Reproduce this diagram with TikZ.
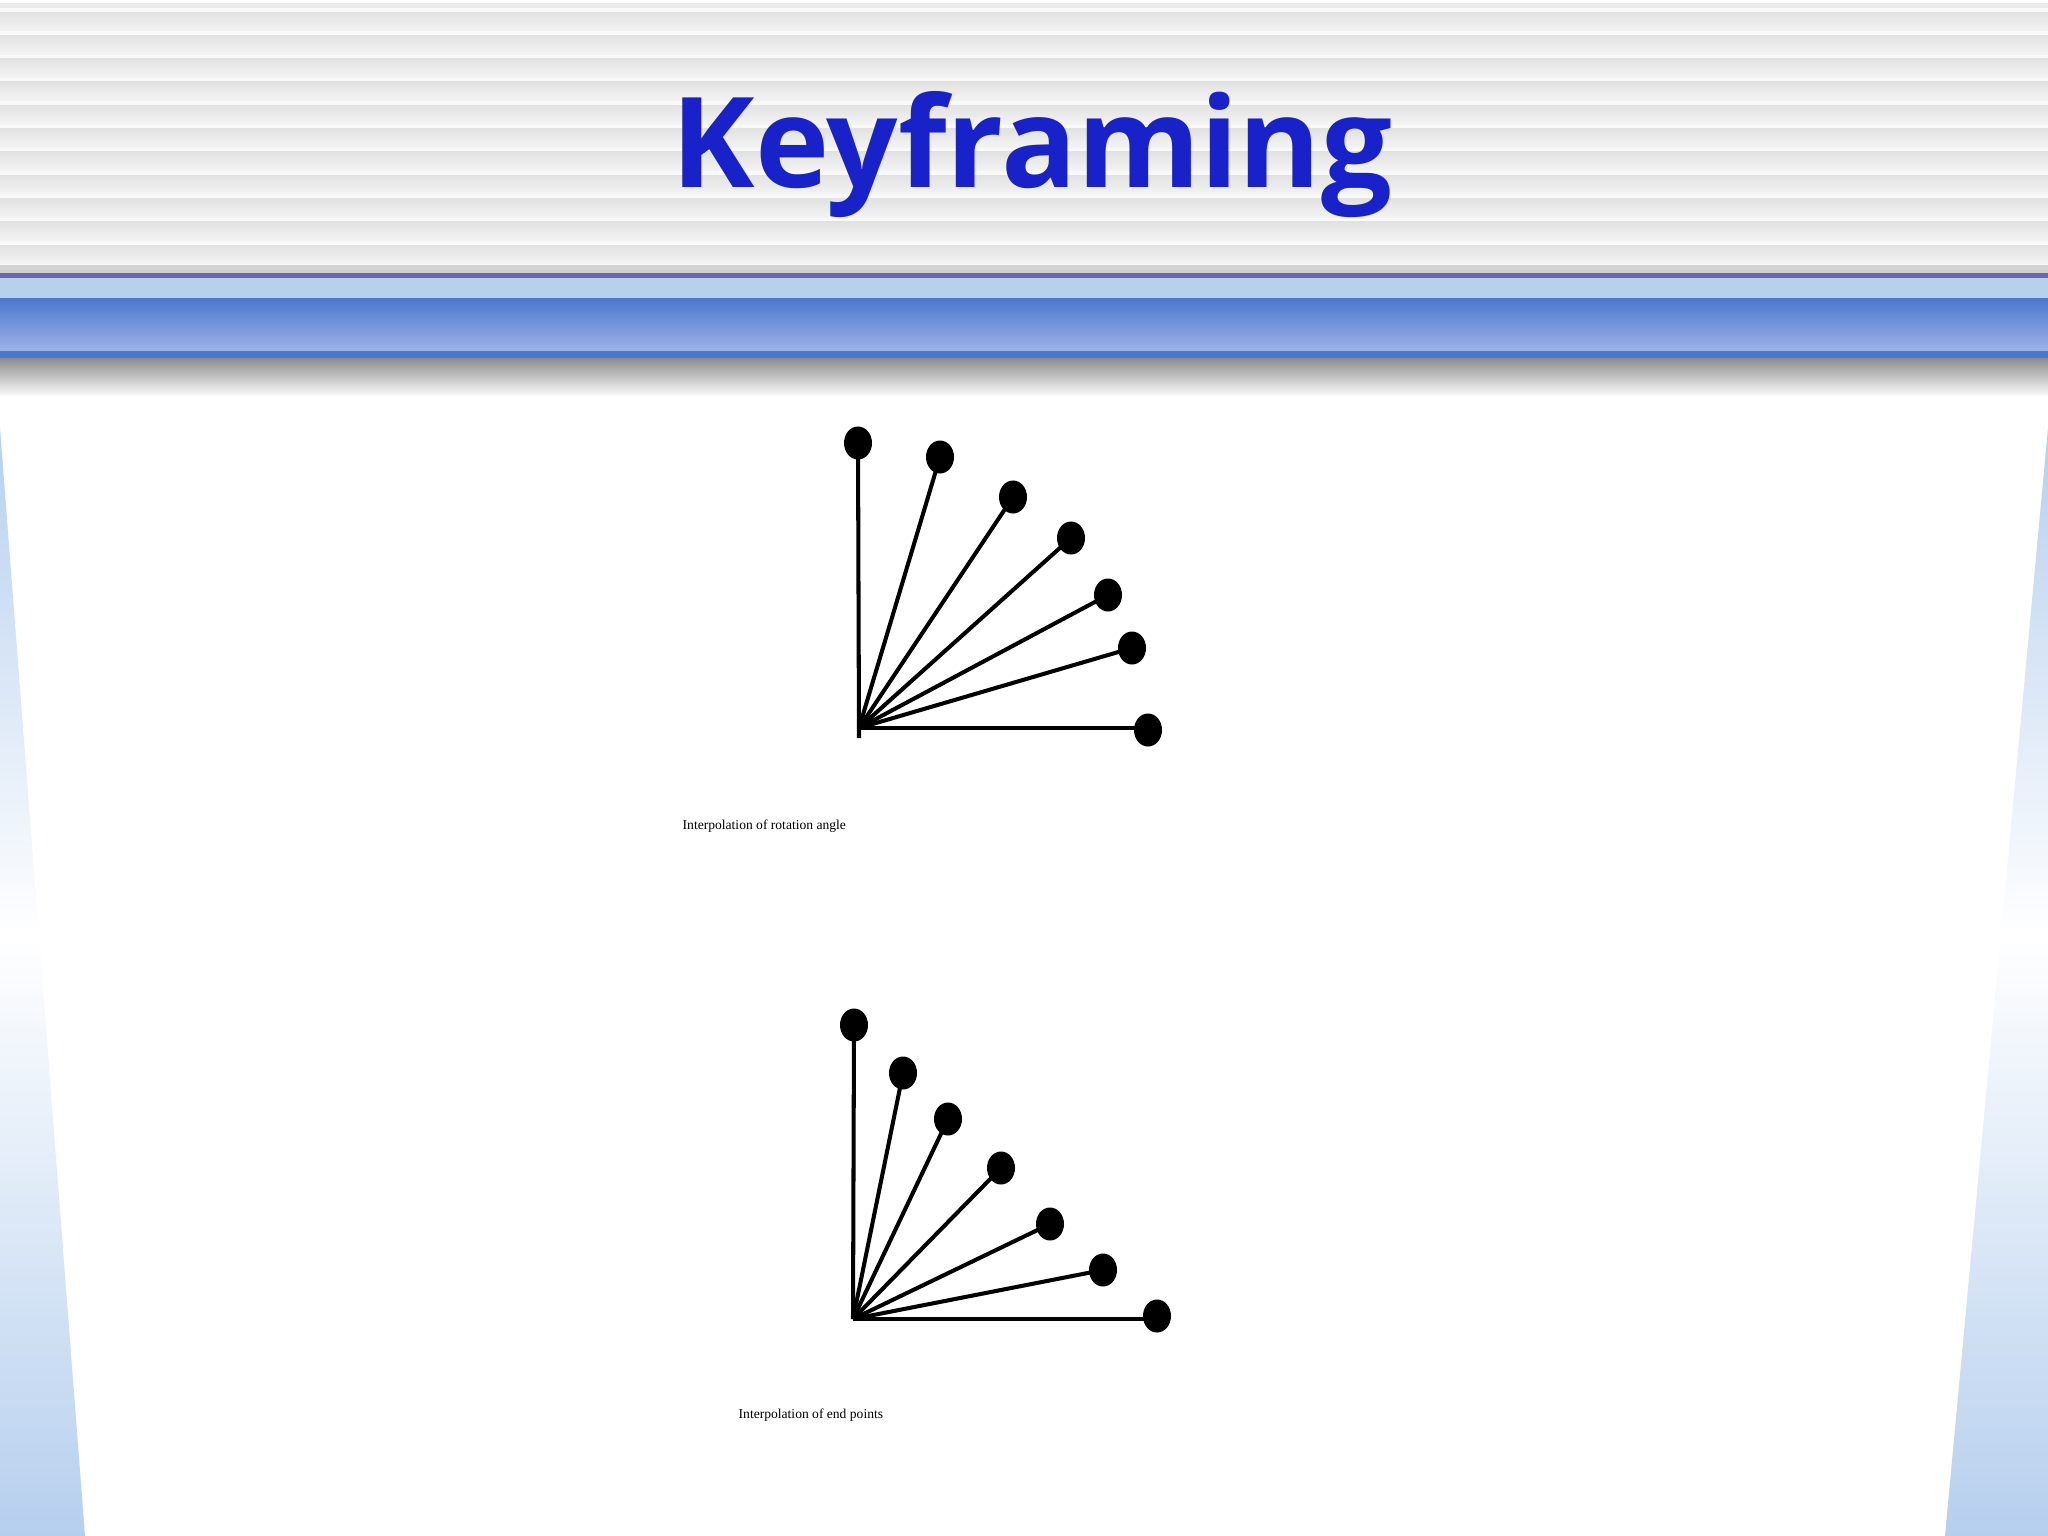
\documentclass[tikz,border=0pt]{standalone}
\usepackage{fontspec}
\setmainfont{Liberation Serif}
\newfontfamily\titlefont{Open Sans}
\usetikzlibrary{shapes.geometric}
\definecolor{titleblue}{RGB}{25,34,200}
\definecolor{hdrgray}{RGB}{234,234,234}
\definecolor{stripedark}{RGB}{226,226,226}
\definecolor{stripelight}{RGB}{244,244,244}
\definecolor{bandblue}{RGB}{74,120,206}
\definecolor{bandlight}{RGB}{158,178,232}
\definecolor{palebluebar}{RGB}{184,208,236}
\definecolor{purpleline}{RGB}{104,104,176}
\definecolor{sideblue}{RGB}{182,207,238}
\tikzset{
  keydot/.style={ellipse, fill=black, minimum width=0.28cm, minimum height=0.33cm, inner sep=0pt},
  arm/.style={draw=black, line width=1.15pt},
  caption/.style={font=\fontsize{3.86}{5}\selectfont, anchor=west, inner sep=0pt},
  titletext/.style={font=\titlefont\bfseries\fontsize{35.7}{40}\selectfont, text=titleblue, anchor=base, inner sep=0pt}
}
\begin{document}
\begin{tikzpicture}[x=0.01cm,y=-0.01cm]
\useasboundingbox (0,0) rectangle (2048,1536);
\fill[white] (0,0) rectangle (2048,1536);
% header stripes
\fill[hdrgray] (0,0) rectangle (2048,266);
\foreach \i in {0,...,11} {
  \pgfmathsetmacro\ya{8+23.3*\i}
  \pgfmathsetmacro\yb{\ya+4}
  \pgfmathsetmacro\yc{\ya+23.3}
  \fill[white!70!hdrgray] (0,\ya) rectangle (2048,\yb);
  \shade[top color=stripedark, bottom color=stripelight] (0,\yb) rectangle (2048,\yc);
}
\fill[white] (0,0) rectangle (2048,3);
% separator bands
\fill[black!18] (0,265) rectangle (2048,273);
\fill[purpleline] (0,273) rectangle (2048,278);
\fill[palebluebar] (0,278) rectangle (2048,298);
\shade[top color=bandblue, bottom color=bandlight] (0,298) rectangle (2048,351);
\fill[bandblue] (0,351) rectangle (2048,358);
\shade[top color=black!45, bottom color=white] (0,358) rectangle (2048,397);
% side wedges
\begin{scope}
  \clip (0,428) -- (0,1536) -- (85,1536) -- cycle;
  \shade[top color=sideblue, bottom color=white] (0,428) rectangle (90,935);
  \shade[top color=white, bottom color=sideblue] (0,935) rectangle (90,1536);
\end{scope}
\begin{scope}
  \clip (2048,428) -- (2048,1536) -- (1945,1536) -- cycle;
  \shade[top color=sideblue, bottom color=white] (1940,428) rectangle (2048,935);
  \shade[top color=white, bottom color=sideblue] (1940,935) rectangle (2048,1536);
\end{scope}
% title
\node[titletext] (title) at (1032,187) {Keyframing};
% fan 1: interpolation of rotation angle
\coordinate (o1) at (859,728);
\coordinate (o1b) at (859,738);
\node[keydot] (a1) at (858,443) {};
\node[keydot] (a2) at (940,457) {};
\node[keydot] (a3) at (1013,497) {};
\node[keydot] (a4) at (1071,538) {};
\node[keydot] (a5) at (1108,595) {};
\node[keydot] (a6) at (1132,648) {};
\node[keydot] (a7) at (1148,730) {};
\draw[arm] (a1.center) -- (o1b);
\foreach \n in {a2,a3,a4,a5,a6} { \draw[arm] (o1) -- (\n.center); }
\draw[arm] (o1) -- (a7.center |- o1);
\node[caption] (cap1) at (682,826) {Interpolation of rotation angle};
% fan 2: interpolation of end points
\coordinate (o2) at (853,1319);
\node[keydot] (b1) at (854,1025) {};
\node[keydot] (b2) at (903,1073) {};
\node[keydot] (b3) at (948,1119) {};
\node[keydot] (b4) at (1001,1168) {};
\node[keydot] (b5) at (1050,1224) {};
\node[keydot] (b6) at (1103,1270) {};
\node[keydot] (b7) at (1157,1316) {};
\draw[arm] (b1.center) -- (o2);
\foreach \n in {b2,b3,b4,b5,b6} { \draw[arm] (o2) -- (\n.center); }
\draw[arm] (o2) -- (b7.center |- o2);
\node[caption] (cap2) at (738,1415) {Interpolation of end points};
\end{tikzpicture}
\end{document}
